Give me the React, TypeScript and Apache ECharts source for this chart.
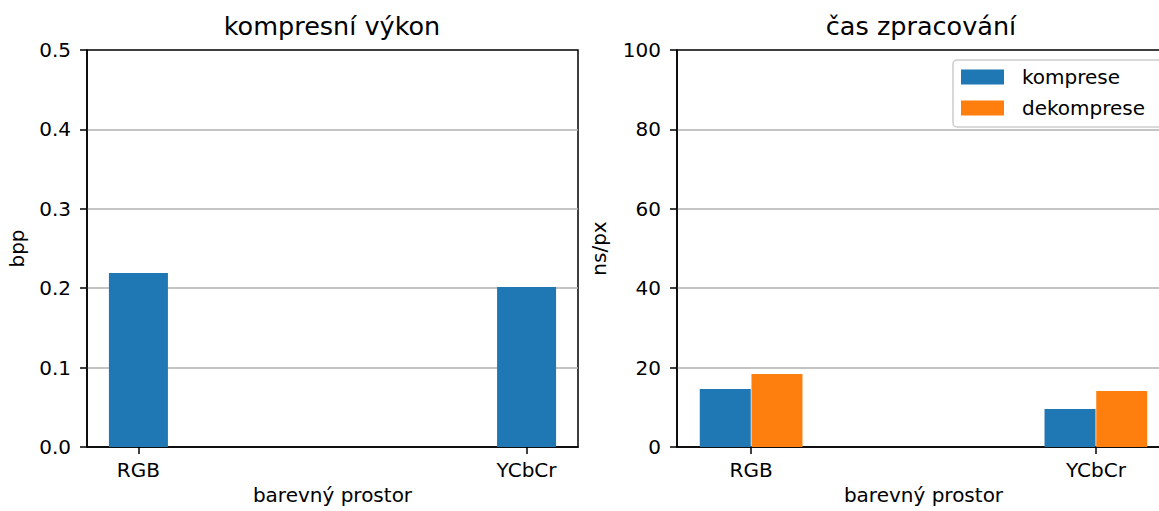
import React, { useEffect, useRef } from "react";
import * as echarts from "echarts";

const categories = ["RGB", "YCbCr"];
const bppValues = [0.219, 0.2015];
const kompreseValues = [14.6, 9.6];
const dekompreseValues = [18.4, 14.1];
const leftTitle = "kompresní výkon";
const rightTitle = "čas zpracování";
const xName = "barevný prostor";
const seriesNames = ["komprese", "dekomprese"];

const FONT = "DejaVu Sans";
const BLUE = "#1f77b4";
const ORANGE = "#ff7f0e";

export default function App() {
  const ref = useRef<HTMLDivElement>(null);
  useEffect(() => {
    if (!ref.current) return;
    const chart = echarts.init(ref.current, undefined, { renderer: "svg" });
    const catIdx = categories.map((_, i) => i);
    const barW = 0.15;
    const xAxisBase = (min: number, max: number, gridIndex: number) => ({
      type: "value",
      gridIndex,
      min,
      max,
      name: xName,
      nameLocation: "middle",
      nameGap: 33,
      nameTextStyle: { fontFamily: FONT, fontSize: 20, color: "#000" },
      axisLine: { show: true, onZero: false, lineStyle: { color: "#000", width: 1.5 } },
      axisTick: { show: true, customValues: catIdx, length: 7, lineStyle: { color: "#000", width: 1.5 } },
      axisLabel: {
        customValues: catIdx,
        formatter: (v: number) => categories[Math.round(v)] ?? "",
        fontFamily: FONT,
        fontSize: 20,
        color: "#000",
        margin: 13,
      },
      splitLine: { show: false },
    });
    const yAxisBase = (max: number, interval: number, gridIndex: number, name: string, gap: number, dec: number) => ({
      type: "value",
      gridIndex,
      min: 0,
      max,
      interval,
      name,
      nameLocation: "middle",
      nameGap: gap,
      nameTextStyle: { fontFamily: FONT, fontSize: 20, color: "#000" },
      axisLine: { show: true, onZero: false, lineStyle: { color: "#000", width: 1.5 } },
      axisTick: { show: true, length: 7, lineStyle: { color: "#000", width: 1.5 } },
      axisLabel: {
        formatter: (v: number) => v.toFixed(dec),
        fontFamily: FONT,
        fontSize: 20,
        color: "#000",
        margin: 16,
      },
      splitLine: { show: true, showMinLine: false, showMaxLine: false, lineStyle: { color: "#b0b0b0", width: 1.5 } },
    });

    chart.setOption({
      animation: false,
      backgroundColor: "#fff",
      title: [
        { text: leftTitle, left: 332, top: 13, textAlign: "center", padding: 0, textStyle: { fontFamily: FONT, fontSize: 25.5, fontWeight: "normal", color: "#000" } },
        { text: rightTitle, left: 921, top: 13, textAlign: "center", padding: 0, textStyle: { fontFamily: FONT, fontSize: 25.5, fontWeight: "normal", color: "#000" } },
      ],
      grid: [
        { left: 87, top: 50, width: 491, height: 397, show: true, borderColor: "#000", borderWidth: 1.5, backgroundColor: "transparent" },
        { left: 677, top: 50, width: 493, height: 397, show: true, borderColor: "#000", borderWidth: 1.5, backgroundColor: "transparent" },
      ],
      xAxis: [xAxisBase(-0.1325, 1.1325, 0), xAxisBase(-0.215, 1.215, 1)],
      yAxis: [yAxisBase(0.5, 0.1, 0, "bpp", 60, 1), yAxisBase(100, 20, 1, "ns/px", 68, 0)],
      legend: {
        data: seriesNames,
        orient: "vertical",
        left: 953,
        top: 60,
        padding: [7, 40, 9, 8],
        itemWidth: 43,
        itemHeight: 15,
        itemGap: 11,
        icon: "rect",
        borderColor: "#cccccc",
        borderWidth: 1.5,
        borderRadius: 4,
        backgroundColor: "rgba(255,255,255,0.8)",
        textStyle: { fontFamily: FONT, fontSize: 20, color: "#000", padding: [0, 0, 0, 13] },
      },
      series: [
        {
          type: "bar",
          name: "bpp",
          xAxisIndex: 0,
          yAxisIndex: 0,
          barWidth: 59,
          itemStyle: { color: BLUE },
          data: bppValues.map((v, i) => [catIdx[i], v]),
        },
        {
          type: "bar",
          name: seriesNames[0],
          xAxisIndex: 1,
          yAxisIndex: 1,
          barWidth: 51,
          barGap: "-100%",
          itemStyle: { color: BLUE },
          data: kompreseValues.map((v, i) => [catIdx[i] - barW / 2, v]),
        },
        {
          type: "bar",
          name: seriesNames[1],
          xAxisIndex: 1,
          yAxisIndex: 1,
          barWidth: 51,
          barGap: "-100%",
          itemStyle: { color: ORANGE },
          data: dekompreseValues.map((v, i) => [catIdx[i] + barW / 2, v]),
        },
      ],
    });
    return () => chart.dispose();
  }, []);
  return (
    <div
      ref={ref}
      style={{ position: "fixed", left: 0, top: 0, width: 1180, height: 511, background: "#fff" }}
    />
  );
}
